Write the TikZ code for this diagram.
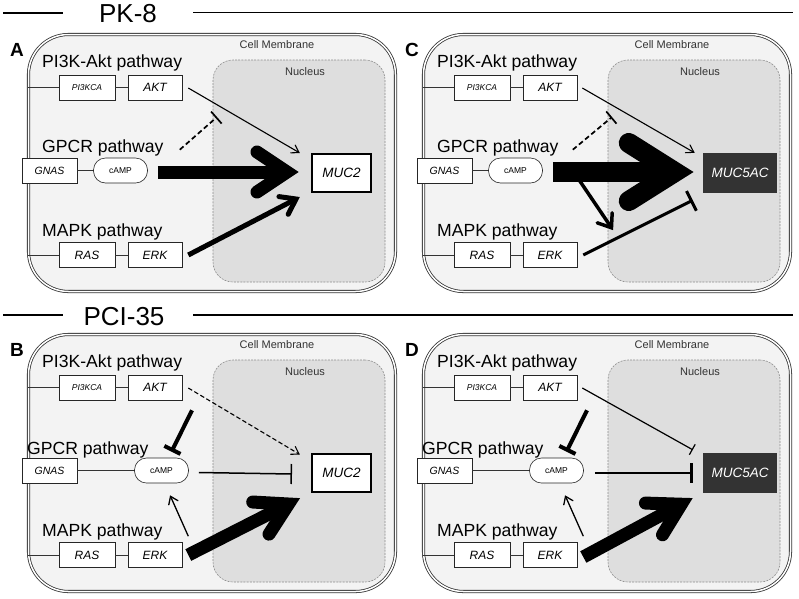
\documentclass[tikz,border=0pt]{standalone}
\usepackage{fontspec}
\setmainfont{Liberation Sans}
\usetikzlibrary{arrows.meta,calc,decorations.markings}
\definecolor{cellbg}{HTML}{F3F3F3}
\definecolor{nucbg}{HTML}{DEDEDE}
\definecolor{mucdark}{HTML}{333333}
\tikzset{
  membr/.style={draw=black!80, double=white, double distance=1.5pt, line width=0.8pt, fill=cellbg, rounded corners=40pt, minimum width=367pt, minimum height=257pt, inner sep=0pt},
  nucl/.style={draw=black!45, dash pattern=on 2pt off 1.2pt, line width=0.6pt, fill=nucbg, rounded corners=20pt, minimum width=172pt, minimum height=222pt, inner sep=0pt},
  gbox/.style={draw=black!85, fill=white, line width=0.6pt, minimum height=25pt, inner sep=0pt, font=\itshape\fontsize{12}{12}\selectfont},
  pill/.style={draw=black!85, fill=white, line width=0.6pt, rounded corners=12pt, minimum width=54pt, minimum height=25pt, inner sep=0pt, font=\fontsize{8.5}{9}\selectfont},
  mucbox/.style={draw=black, line width=2pt, fill=white, minimum width=59pt, minimum height=38pt, inner sep=0pt, font=\itshape\fontsize{13.5}{14}\selectfont},
  muc5box/.style={fill=mucdark, text=white, minimum width=74pt, minimum height=40pt, inner sep=0pt, font=\itshape\fontsize{13.5}{14}\selectfont},
  pathlbl/.style={anchor=west, inner sep=0pt, font=\fontsize{17.6}{18}\selectfont},
  smlbl/.style={inner sep=0pt, text=black!80, font=\fontsize{11}{12}\selectfont},
  letter/.style={inner sep=0pt, font=\bfseries\fontsize{19}{20}\selectfont},
  hdr/.style={inner sep=0pt, font=\fontsize{26}{26}\selectfont},
  hdrline/.style={line width=1.8pt},
  link/.style={draw=black!80, line width=0.6pt},
  chev/.style n args={3}{postaction={decorate,decoration={markings,mark=at position 1 with {\draw[solid,line width=#1,line cap=round,line join=miter] (-#2,#3) -- (0,0) -- (-#2,-#3);}}}},
}
\newcommand\cellbase[4]{%
  \node[membr] (#1mem) at (212,163) {};
  \node[nucl] (#1nuc) at (299,171) {};
  \node[smlbl] (#1cm) at (277,45) {Cell Membrane};
  \node[smlbl] (#1nl) at (305,72) {Nucleus};
  \node[letter] (#1let) at (17,50) {#2};
  \node[pathlbl] (#1la) at (42,63) {PI3K-Akt pathway};
  \node[pathlbl] (#1lb) at (#4) {GPCR pathway};
  \node[pathlbl] (#1lc) at (42,231.5) {MAPK pathway};
  \node[gbox, minimum width=56pt, font=\itshape\fontsize{8.5}{9}\selectfont] (#1pik) at (87,87.5) {PI3KCA};
  \node[gbox, minimum width=54pt] (#1akt) at (155,87.5) {AKT};
  \node[gbox, minimum width=55pt, font=\itshape\fontsize{10.5}{11}\selectfont] (#1gnas) at (49.5,170.5) {GNAS};
  \node[pill] (#1camp) at (#3,170.5) {cAMP};
  \node[gbox, minimum width=56pt] (#1ras) at (87,255) {RAS};
  \node[gbox, minimum width=54pt] (#1erk) at (155,255) {ERK};
  \draw[link] (#1mem.west |- #1pik.west) -- (#1pik.west);
  \draw[link] (#1pik) -- (#1akt);
  \draw[link] (#1gnas) -- (#1camp);
  \draw[link] (#1mem.west |- #1ras.west) -- (#1ras);
  \draw[link] (#1ras) -- (#1erk);
}
\begin{document}
\begin{tikzpicture}[x=1pt,y=-1pt]
\useasboundingbox (0,0) rectangle (799,598);
\fill[white] (0,0) rectangle (799,598);
% headers
\node[hdr] (pk) at (128,14) {PK-8};
\draw[hdrline] (3,13) -- (63,13);
\draw[hdrline] (193,12.5) -- (793,12.5);
\node[hdr] (pci) at (124,317) {PCI-35};
\draw[hdrline] (3,315) -- (63,315);
\draw[hdrline] (193,315) -- (793,315);
% panels
\begin{scope}[shift={(0,0)}]
  \cellbase{A}{A}{120.5}{42,147.5}
  \node[mucbox] (Amuc) at (341.5,173) {MUC2};
\end{scope}
\begin{scope}[shift={(395,0)}]
  \cellbase{C}{C}{120.5}{42,147.5}
  \node[muc5box] (Cmuc) at (345,173) {MUC5AC};
\end{scope}
\begin{scope}[shift={(0,300)}]
  \cellbase{B}{B}{161.5}{27,149.5}
  \node[mucbox] (Bmuc) at (341.5,173) {MUC2};
\end{scope}
\begin{scope}[shift={(395,300)}]
  \cellbase{D}{D}{161.5}{27,149.5}
  \node[muc5box] (Dmuc) at (345,173) {MUC5AC};
\end{scope}
% ---- Panel A arrows
\coordinate (Ainh) at (217,117);
\draw[line width=1.1pt, chev={1.1pt}{7}{4.5}] ($(Aakt.east)+(6,0.5)$) -- ($(Amuc.north west)+(-12,-0.5)$);
\draw[line width=1.7pt, dash pattern=on 5pt off 3pt, -{Bar[width=16pt]}] ($(Acamp.north east)+(32,-8)$) -- (Ainh);
\draw[line width=13pt, chev={13pt}{30}{20}] ($(Acamp.east)+(10,1.5)$) -- ($(Amuc.west)+(-24,-1)$);
\draw[line width=5pt, chev={5pt}{14}{10}] ($(Aerk.east)+(6,0)$) -- ($(Amuc.south west)+(-15,6)$);
% ---- Panel C arrows
\coordinate (Cinh) at (612,117);
\coordinate (Cdn) at (611.5,227.8);
\draw[line width=1.1pt, chev={1.1pt}{7}{4.5}] ($(Cakt.east)+(5,0.5)$) -- ($(Cmuc.north west)+(-9,-0.5)$);
\draw[line width=1.7pt, dash pattern=on 5pt off 3pt, -{Bar[width=16pt]}] ($(Ccamp.north east)+(30,-8)$) -- (Cinh);
\draw[line width=20pt, chev={20pt}{46}{29}] ($(Ccamp.east)+(10,1.5)$) -- ($(Cmuc.west)+(-28,-1)$);
\draw[line width=3.5pt, chev={3.5pt}{12}{9}] ($(Ccamp.east)+(35,7.5)$) -- (Cdn);
\draw[line width=3pt, -{Bar[width=22pt]}] ($(Cerk.east)+(6,0)$) -- ($(Cmuc.south west)+(-10,7)$);
% ---- Panel B arrows
\draw[line width=1.1pt, dash pattern=on 4.5pt off 2.5pt, chev={1.1pt}{7}{4.5}] ($(Bakt.east)+(6,0.5)$) -- ($(Bmuc.north west)+(-12,1)$);
\draw[line width=4pt, -{Bar[width=18pt]}] ($(Bakt.south)+(37,10)$) -- ($(Bcamp.north)+(10,-6)$);
\draw[line width=1.5pt, -{Bar[width=20pt]}] ($(Bcamp.east)+(10,2)$) -- ($(Bmuc.west)+(-19,1)$);
\draw[line width=1.3pt, chev={1.3pt}{7}{5}] ($(Berk.north east)+(6,-6)$) -- ($(Bcamp.south)+(9,13)$);
\draw[line width=13pt, chev={13pt}{31}{18}] ($(Berk.east)+(6,0)$) -- ($(Bmuc.south west)+(-22.5,11)$);
% ---- Panel D arrows
\draw[line width=1.2pt, -{Bar[width=12pt]}] ($(Dakt.east)+(5,0.5)$) -- ($(Dmuc.north west)+(-10,-3)$);
\draw[line width=4pt, -{Bar[width=18pt]}] ($(Dakt.south)+(37,10)$) -- ($(Dcamp.north)+(10,-6)$);
\draw[line width=2.5pt, -{Bar[width=20pt]}] ($(Dcamp.east)+(11,2.5)$) -- ($(Dmuc.west)+(-10,0)$);
\draw[line width=1.3pt, chev={1.3pt}{7}{5}] ($(Derk.north east)+(6,-6)$) -- ($(Dcamp.south)+(9,13)$);
\draw[line width=13pt, chev={13pt}{31}{18}] ($(Derk.east)+(6,2)$) -- ($(Dmuc.south west)+(-21.5,11)$);
\end{tikzpicture}
\end{document}
